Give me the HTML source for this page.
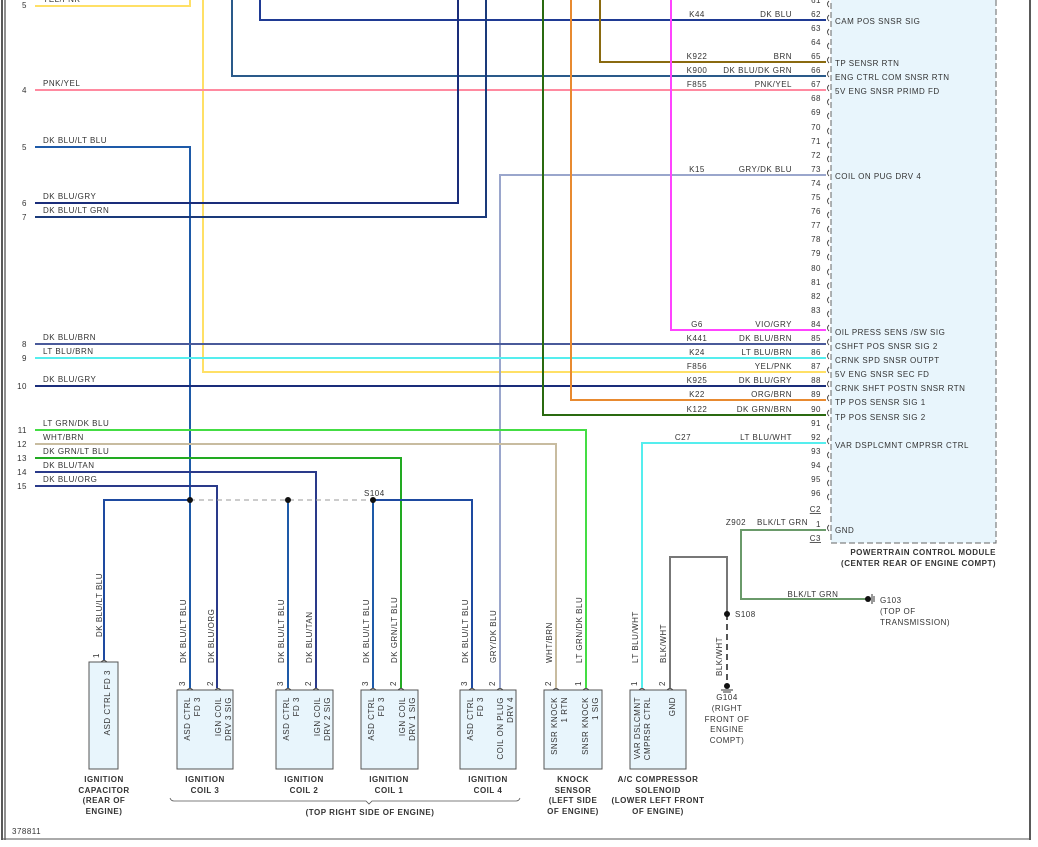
<!DOCTYPE html>
<html><head><meta charset="utf-8"><style>
html,body{margin:0;padding:0;background:#fff;}
svg{display:block;}
text{font-family:"Liberation Sans",sans-serif;font-size:8px;fill:#333;letter-spacing:0.5px;}
.b{font-weight:bold;font-size:8px;}
.w{fill:none;stroke-width:2;}
</style></head><body>
<svg width="1038" height="847" viewBox="0 0 1038 847" xmlns="http://www.w3.org/2000/svg">
<line x1="2" y1="0" x2="2" y2="840" stroke="#222" stroke-width="1.5"/>
<line x1="5" y1="0" x2="5" y2="840" stroke="#222" stroke-width="1"/>
<line x1="1030" y1="0" x2="1030" y2="840" stroke="#222" stroke-width="1.5"/>
<line x1="2" y1="839" x2="1030" y2="839" stroke="#555" stroke-width="1"/>

<rect x="831" y="-6" width="165" height="549" fill="#e8f5fc" stroke="#666" stroke-dasharray="6,3"/>

<path class="w" stroke="#ffe066" d="M35 6 H190 V0"/>
<path class="w" stroke="#ffe066" d="M203 0 V372 H826"/>
<path class="w" stroke="#1f3a93" d="M260 0 V20 H826"/>
<path class="w" stroke="#8a6a10" d="M600 0 V62 H826"/>
<path class="w" stroke="#2a5a8a" d="M232 0 V76 H826"/>
<path class="w" stroke="#ff8aa0" d="M35 90 H826"/>
<path class="w" stroke="#1e5aa8" d="M35 147 H190 V688"/>
<path class="w" stroke="#1a2d7a" d="M35 203 H458 V0"/>
<path class="w" stroke="#1a3a7a" d="M35 217 H486 V0"/>
<path class="w" stroke="#9aa6cc" d="M826 175 H500 V688"/>
<path class="w" stroke="#ff44ff" d="M671 0 V330 H826"/>
<path class="w" stroke="#4a5a9a" d="M35 344 H826"/>
<path class="w" stroke="#55eeee" d="M35 358 H826"/>
<path class="w" stroke="#1a2d7a" d="M35 386 H826"/>
<path class="w" stroke="#e88a30" d="M571 0 V400 H826"/>
<path class="w" stroke="#2a6a10" d="M543 0 V415 H826"/>
<path class="w" stroke="#44dd44" d="M35 430 H586 V688"/>
<path class="w" stroke="#c8bca0" d="M35 444 H556 V688"/>
<path class="w" stroke="#22aa22" d="M35 458 H401 V688"/>
<path class="w" stroke="#2a3a8a" d="M35 472 H316 V688"/>
<path class="w" stroke="#2a3a8a" d="M35 486 H217 V688"/>
<path class="w" stroke="#55eeee" d="M826 443 H642 V688"/>
<path class="w" stroke="#1e4aa0" d="M104 660 V500 H190"/>
<line x1="190" y1="500" x2="373" y2="500" stroke="#999" stroke-dasharray="5,4"/>
<path class="w" stroke="#1e4aa0" d="M373 500 H472 V688"/>
<path class="w" stroke="#1e5aa8" d="M288 500 V688"/>
<path class="w" stroke="#1e5aa8" d="M373 500 V688"/>
<path class="w" stroke="#6a9a6a" d="M826 530 H741 V599 H866"/>
<path class="w" stroke="#777" d="M670 688 V557 H727 V614"/>
<line x1="727" y1="614" x2="727" y2="686" stroke="#555" stroke-width="2" stroke-dasharray="6,4"/>

<circle cx="190" cy="500" r="3" fill="#111"/>
<circle cx="288" cy="500" r="3" fill="#111"/>
<circle cx="373" cy="500" r="3" fill="#111"/>
<text x="364" y="496">S104</text>
<circle cx="727" cy="614" r="3" fill="#111"/>
<text x="735" y="617">S108</text>
<circle cx="727" cy="686" r="3" fill="#111"/>
<path d="M721 690 H733 M723 692 H731" stroke="#333"/>
<g text-anchor="middle"><text x="727" y="700">G104</text><text x="727" y="711">(RIGHT</text><text x="727" y="722">FRONT OF</text><text x="727" y="732">ENGINE</text><text x="727" y="743">COMPT)</text></g>
<circle cx="868" cy="599" r="3" fill="#111"/>
<path d="M872 594 V604 M874 596 V602" stroke="#333"/>
<text x="880" y="603">G103</text><text x="880" y="614">(TOP OF</text><text x="880" y="625">TRANSMISSION)</text>

<g>
<text x="43" y="2">YEL/PNK</text>
<text x="43" y="86">PNK/YEL</text>
<text x="43" y="143">DK BLU/LT BLU</text>
<text x="43" y="199">DK BLU/GRY</text>
<text x="43" y="213">DK BLU/LT GRN</text>
<text x="43" y="340">DK BLU/BRN</text>
<text x="43" y="354">LT BLU/BRN</text>
<text x="43" y="382">DK BLU/GRY</text>
<text x="43" y="426">LT GRN/DK BLU</text>
<text x="43" y="440">WHT/BRN</text>
<text x="43" y="454">DK GRN/LT BLU</text>
<text x="43" y="468">DK BLU/TAN</text>
<text x="43" y="482">DK BLU/ORG</text>
</g>
<g text-anchor="end">
<text x="27" y="8">5</text><text x="27" y="93">4</text><text x="27" y="150">5</text>
<text x="27" y="206">6</text><text x="27" y="220">7</text><text x="27" y="347">8</text>
<text x="27" y="361">9</text><text x="27" y="389">10</text><text x="27" y="433">11</text>
<text x="27" y="447">12</text><text x="27" y="461">13</text><text x="27" y="475">14</text><text x="27" y="489">15</text>
</g>

<g text-anchor="end">
<text x="821" y="3">61</text><text x="821" y="17">62</text><text x="821" y="31">63</text><text x="821" y="45">64</text>
<text x="821" y="59">65</text><text x="821" y="73">66</text><text x="821" y="87">67</text><text x="821" y="101">68</text>
<text x="821" y="115">69</text><text x="821" y="130">70</text><text x="821" y="144">71</text><text x="821" y="158">72</text>
<text x="821" y="172">73</text><text x="821" y="186">74</text><text x="821" y="200">75</text><text x="821" y="214">76</text>
<text x="821" y="228">77</text><text x="821" y="242">78</text><text x="821" y="256">79</text><text x="821" y="271">80</text>
<text x="821" y="285">81</text><text x="821" y="299">82</text><text x="821" y="313">83</text><text x="821" y="327">84</text>
<text x="821" y="341">85</text><text x="821" y="355">86</text><text x="821" y="369">87</text><text x="821" y="383">88</text>
<text x="821" y="397">89</text><text x="821" y="412">90</text><text x="821" y="426">91</text><text x="821" y="440">92</text>
<text x="821" y="454">93</text><text x="821" y="468">94</text><text x="821" y="482">95</text><text x="821" y="496">96</text>
<text x="821" y="512" text-decoration="underline">C2</text>
<text x="821" y="527">1</text>
<text x="821" y="541" text-decoration="underline">C3</text>
</g>
<g fill="none" stroke="#444" stroke-width="0.9">
<path d="M829 1 q-3 3 0 6 M829 15 q-3 3 0 6 M829 29 q-3 3 0 6 M829 43 q-3 3 0 6 M829 57 q-3 3 0 6 M829 71 q-3 3 0 6 M829 85 q-3 3 0 6 M829 99 q-3 3 0 6 M829 113 q-3 3 0 6 M829 128 q-3 3 0 6 M829 142 q-3 3 0 6 M829 156 q-3 3 0 6 M829 170 q-3 3 0 6 M829 184 q-3 3 0 6 M829 198 q-3 3 0 6 M829 212 q-3 3 0 6 M829 226 q-3 3 0 6 M829 240 q-3 3 0 6 M829 254 q-3 3 0 6 M829 269 q-3 3 0 6 M829 283 q-3 3 0 6 M829 297 q-3 3 0 6 M829 311 q-3 3 0 6 M829 325 q-3 3 0 6 M829 339 q-3 3 0 6 M829 353 q-3 3 0 6 M829 367 q-3 3 0 6 M829 381 q-3 3 0 6 M829 395 q-3 3 0 6 M829 410 q-3 3 0 6 M829 424 q-3 3 0 6 M829 438 q-3 3 0 6 M829 452 q-3 3 0 6 M829 466 q-3 3 0 6 M829 480 q-3 3 0 6 M829 494 q-3 3 0 6 M829 525 q-3 3 0 6"/>
</g>
<g text-anchor="middle">
<text x="697" y="17">K44</text><text x="697" y="59">K922</text><text x="697" y="73">K900</text><text x="697" y="87">F855</text>
<text x="697" y="172">K15</text><text x="697" y="327">G6</text><text x="697" y="341">K441</text><text x="697" y="355">K24</text>
<text x="697" y="369">F856</text><text x="697" y="383">K925</text><text x="697" y="397">K22</text><text x="697" y="412">K122</text>
<text x="683" y="440">C27</text><text x="736" y="525">Z902</text>
</g>
<g text-anchor="end">
<text x="792" y="17">DK BLU</text><text x="792" y="59">BRN</text><text x="792" y="73">DK BLU/DK GRN</text><text x="792" y="87">PNK/YEL</text>
<text x="792" y="172">GRY/DK BLU</text><text x="792" y="327">VIO/GRY</text><text x="792" y="341">DK BLU/BRN</text><text x="792" y="355">LT BLU/BRN</text>
<text x="792" y="369">YEL/PNK</text><text x="792" y="383">DK BLU/GRY</text><text x="792" y="397">ORG/BRN</text><text x="792" y="412">DK GRN/BRN</text>
<text x="792" y="440">LT BLU/WHT</text><text x="808" y="525">BLK/LT GRN</text>
</g>
<text x="813" y="597" text-anchor="middle">BLK/LT GRN</text>
<g>
<text x="835" y="24">CAM POS SNSR SIG</text>
<text x="835" y="66">TP SENSR RTN</text>
<text x="835" y="80">ENG CTRL COM SNSR RTN</text>
<text x="835" y="94">5V ENG SNSR PRIMD FD</text>
<text x="835" y="179">COIL ON PUG DRV 4</text>
<text x="835" y="335">OIL PRESS SENS /SW SIG</text>
<text x="835" y="349">CSHFT POS SNSR SIG 2</text>
<text x="835" y="363">CRNK SPD SNSR OUTPT</text>
<text x="835" y="377">5V ENG SNSR SEC FD</text>
<text x="835" y="391">CRNK SHFT POSTN SNSR RTN</text>
<text x="835" y="405">TP POS SENSR SIG 1</text>
<text x="835" y="420">TP POS SENSR SIG 2</text>
<text x="835" y="448">VAR DSPLCMNT CMPRSR CTRL</text>
<text x="835" y="533">GND</text>
</g>
<g text-anchor="end">
<text x="996" y="555" class="b">POWERTRAIN CONTROL MODULE</text>
<text x="996" y="566" class="b">(CENTER REAR OF ENGINE COMPT)</text>
</g>

<g fill="#e8f5fc" stroke="#555">
<rect x="89" y="662" width="29" height="107"/>
<rect x="177" y="690" width="56" height="79"/>
<rect x="276" y="690" width="57" height="79"/>
<rect x="361" y="690" width="57" height="79"/>
<rect x="460" y="690" width="56" height="79"/>
<rect x="544" y="690" width="58" height="79"/>
<rect x="630" y="690" width="56" height="79"/>
</g>
<g fill="none" stroke="#444" stroke-width="0.9">
<path d="M101 662 q3 -3 6 0 M187 690 q3 -3 6 0 M215 690 q3 -3 6 0 M285 690 q3 -3 6 0 M313 690 q3 -3 6 0 M370 690 q3 -3 6 0 M398 690 q3 -3 6 0 M469 690 q3 -3 6 0 M497 690 q3 -3 6 0 M553 690 q3 -3 6 0 M583 690 q3 -3 6 0 M639 690 q3 -3 6 0 M667 690 q3 -3 6 0"/>
</g>
<g>
<text transform="translate(99,658) rotate(-90)">1</text>
<text transform="translate(185,686) rotate(-90)">3</text><text transform="translate(213,686) rotate(-90)">2</text>
<text transform="translate(283,686) rotate(-90)">3</text><text transform="translate(311,686) rotate(-90)">2</text>
<text transform="translate(368,686) rotate(-90)">3</text><text transform="translate(396,686) rotate(-90)">2</text>
<text transform="translate(467,686) rotate(-90)">3</text><text transform="translate(495,686) rotate(-90)">2</text>
<text transform="translate(551,686) rotate(-90)">2</text><text transform="translate(581,686) rotate(-90)">1</text>
<text transform="translate(637,686) rotate(-90)">1</text><text transform="translate(665,686) rotate(-90)">2</text>
</g>
<g>
<text transform="translate(102,637) rotate(-90)">DK BLU/LT BLU</text>
<text transform="translate(186,663) rotate(-90)">DK BLU/LT BLU</text>
<text transform="translate(214,663) rotate(-90)">DK BLU/ORG</text>
<text transform="translate(284,663) rotate(-90)">DK BLU/LT BLU</text>
<text transform="translate(312,663) rotate(-90)">DK BLU/TAN</text>
<text transform="translate(369,663) rotate(-90)">DK BLU/LT BLU</text>
<text transform="translate(397,663) rotate(-90)">DK GRN/LT BLU</text>
<text transform="translate(468,663) rotate(-90)">DK BLU/LT BLU</text>
<text transform="translate(496,663) rotate(-90)">GRY/DK BLU</text>
<text transform="translate(552,663) rotate(-90)">WHT/BRN</text>
<text transform="translate(582,663) rotate(-90)">LT GRN/DK BLU</text>
<text transform="translate(638,663) rotate(-90)">LT BLU/WHT</text>
<text transform="translate(666,663) rotate(-90)">BLK/WHT</text>
<text transform="translate(722,676) rotate(-90)">BLK/WHT</text>
</g>
<g text-anchor="end">
<text transform="translate(110,670) rotate(-90)">ASD CTRL FD 3</text>
<text transform="translate(190,697) rotate(-90)">ASD CTRL</text>
<text transform="translate(200,697) rotate(-90)">FD 3</text>
<text transform="translate(221,697) rotate(-90)">IGN COIL</text>
<text transform="translate(231,697) rotate(-90)">DRV 3 SIG</text>
<text transform="translate(289,697) rotate(-90)">ASD CTRL</text>
<text transform="translate(299,697) rotate(-90)">FD 3</text>
<text transform="translate(320,697) rotate(-90)">IGN COIL</text>
<text transform="translate(330,697) rotate(-90)">DRV 2 SIG</text>
<text transform="translate(374,697) rotate(-90)">ASD CTRL</text>
<text transform="translate(384,697) rotate(-90)">FD 3</text>
<text transform="translate(405,697) rotate(-90)">IGN COIL</text>
<text transform="translate(415,697) rotate(-90)">DRV 1 SIG</text>
<text transform="translate(473,697) rotate(-90)">ASD CTRL</text>
<text transform="translate(483,697) rotate(-90)">FD 3</text>
<text transform="translate(503,697) rotate(-90)">COIL ON PLUG</text>
<text transform="translate(513,697) rotate(-90)">DRV 4</text>
<text transform="translate(557,697) rotate(-90)">SNSR KNOCK</text>
<text transform="translate(567,697) rotate(-90)">1 RTN</text>
<text transform="translate(588,697) rotate(-90)">SNSR KNOCK</text>
<text transform="translate(598,697) rotate(-90)">1 SIG</text>
<text transform="translate(640,697) rotate(-90)">VAR DSLCMNT</text>
<text transform="translate(650,697) rotate(-90)">CMPRSR CTRL</text>
<text transform="translate(675,697) rotate(-90)">GND</text>
</g>
<g text-anchor="middle">
<text class="b" x="104" y="782">IGNITION</text><text class="b" x="104" y="793">CAPACITOR</text><text class="b" x="104" y="803">(REAR OF</text><text class="b" x="104" y="814">ENGINE)</text>
<text class="b" x="205" y="782">IGNITION</text><text class="b" x="205" y="793">COIL 3</text>
<text class="b" x="304" y="782">IGNITION</text><text class="b" x="304" y="793">COIL 2</text>
<text class="b" x="389" y="782">IGNITION</text><text class="b" x="389" y="793">COIL 1</text>
<text class="b" x="488" y="782">IGNITION</text><text class="b" x="488" y="793">COIL 4</text>
<text class="b" x="573" y="782">KNOCK</text><text class="b" x="573" y="793">SENSOR</text><text class="b" x="573" y="803">(LEFT SIDE</text><text class="b" x="573" y="814">OF ENGINE)</text>
<text class="b" x="658" y="782">A/C COMPRESSOR</text><text class="b" x="658" y="793">SOLENOID</text><text class="b" x="658" y="803">(LOWER LEFT FRONT</text><text class="b" x="658" y="814">OF ENGINE)</text>
<text class="b" x="370" y="815">(TOP RIGHT SIDE OF ENGINE)</text>
</g>
<path d="M170 798 q1 3 4 3 H366 L369 804 L372 801 H516 q3 0 4 -3" fill="none" stroke="#555" stroke-width="0.8"/>
<text x="12" y="834">378811</text>
</svg>
</body></html>
